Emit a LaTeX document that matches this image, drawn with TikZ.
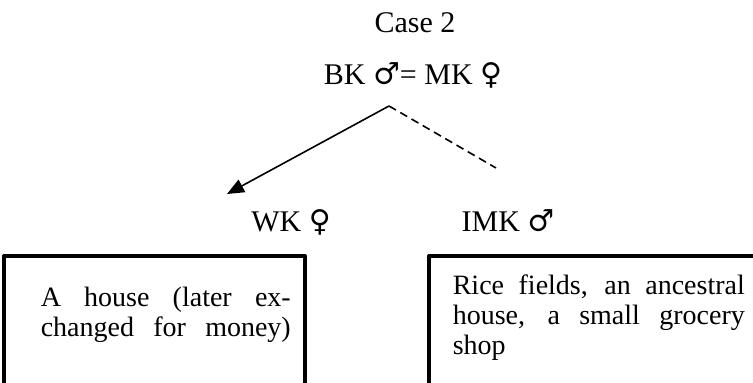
\documentclass[tikz,border=0pt]{standalone}
\usepackage{fontspec}
\setmainfont{Liberation Serif}
\newfontfamily\signfont{DejaVu Serif}
\newcommand{\malesign}{{\signfont ♂}}
\newcommand{\femalesign}{{\signfont ♀}}
\usetikzlibrary{arrows.meta}

\begin{document}
\begin{tikzpicture}[x=0.5pt, y=-0.5pt, thick,
    person/.style={font=\fontsize{15}{18}\selectfont, inner sep=0pt, anchor=base},
    estate/.style={font=\fontsize{14}{15}\selectfont, inner sep=0pt, align=justify, anchor=base west},
    frame/.style={line width=2pt, line join=round}]
    \useasboundingbox (0,0) rectangle (753,383);
    \clip (0,0) rectangle (753,383);
    % Case heading and couple
    \node[person] (title) at (415,33) {Case 2};
    \node[person] (couple) at (413,85) {BK \malesign= MK \femalesign};
    \coordinate (split) at (389,106);
    % Children
    \node[person] (WK) at (291,232) {WK \femalesign};
    \node[person] (IMK) at (508,232) {IMK \malesign};
    \coordinate (WKend) at (227,194);
    \coordinate (IMKend) at (496,168);
    \draw[-{Triangle[length=8.5pt,width=7pt]}] (split) -- (WKend);
    \draw[dashed, dash pattern=on 4pt off 2.5pt] (split) -- (IMKend);
    % Inherited property
    \draw[frame] (4,400) -- (4,256) -- (305,256) -- (305,400);
    \draw[frame] (429,400) -- (429,256) -- (800,256);
    \node[estate, text width=125pt] (WKprop) at (40,307)
        {A house (later ex-\linebreak \makebox[\linewidth][s]{changed for money)}};
    \node[estate, text width=146pt] (IMKprop) at (452,295)
        {Rice fields, an ancestral\linebreak house, a small grocery\linebreak shop};
\end{tikzpicture}
\end{document}
